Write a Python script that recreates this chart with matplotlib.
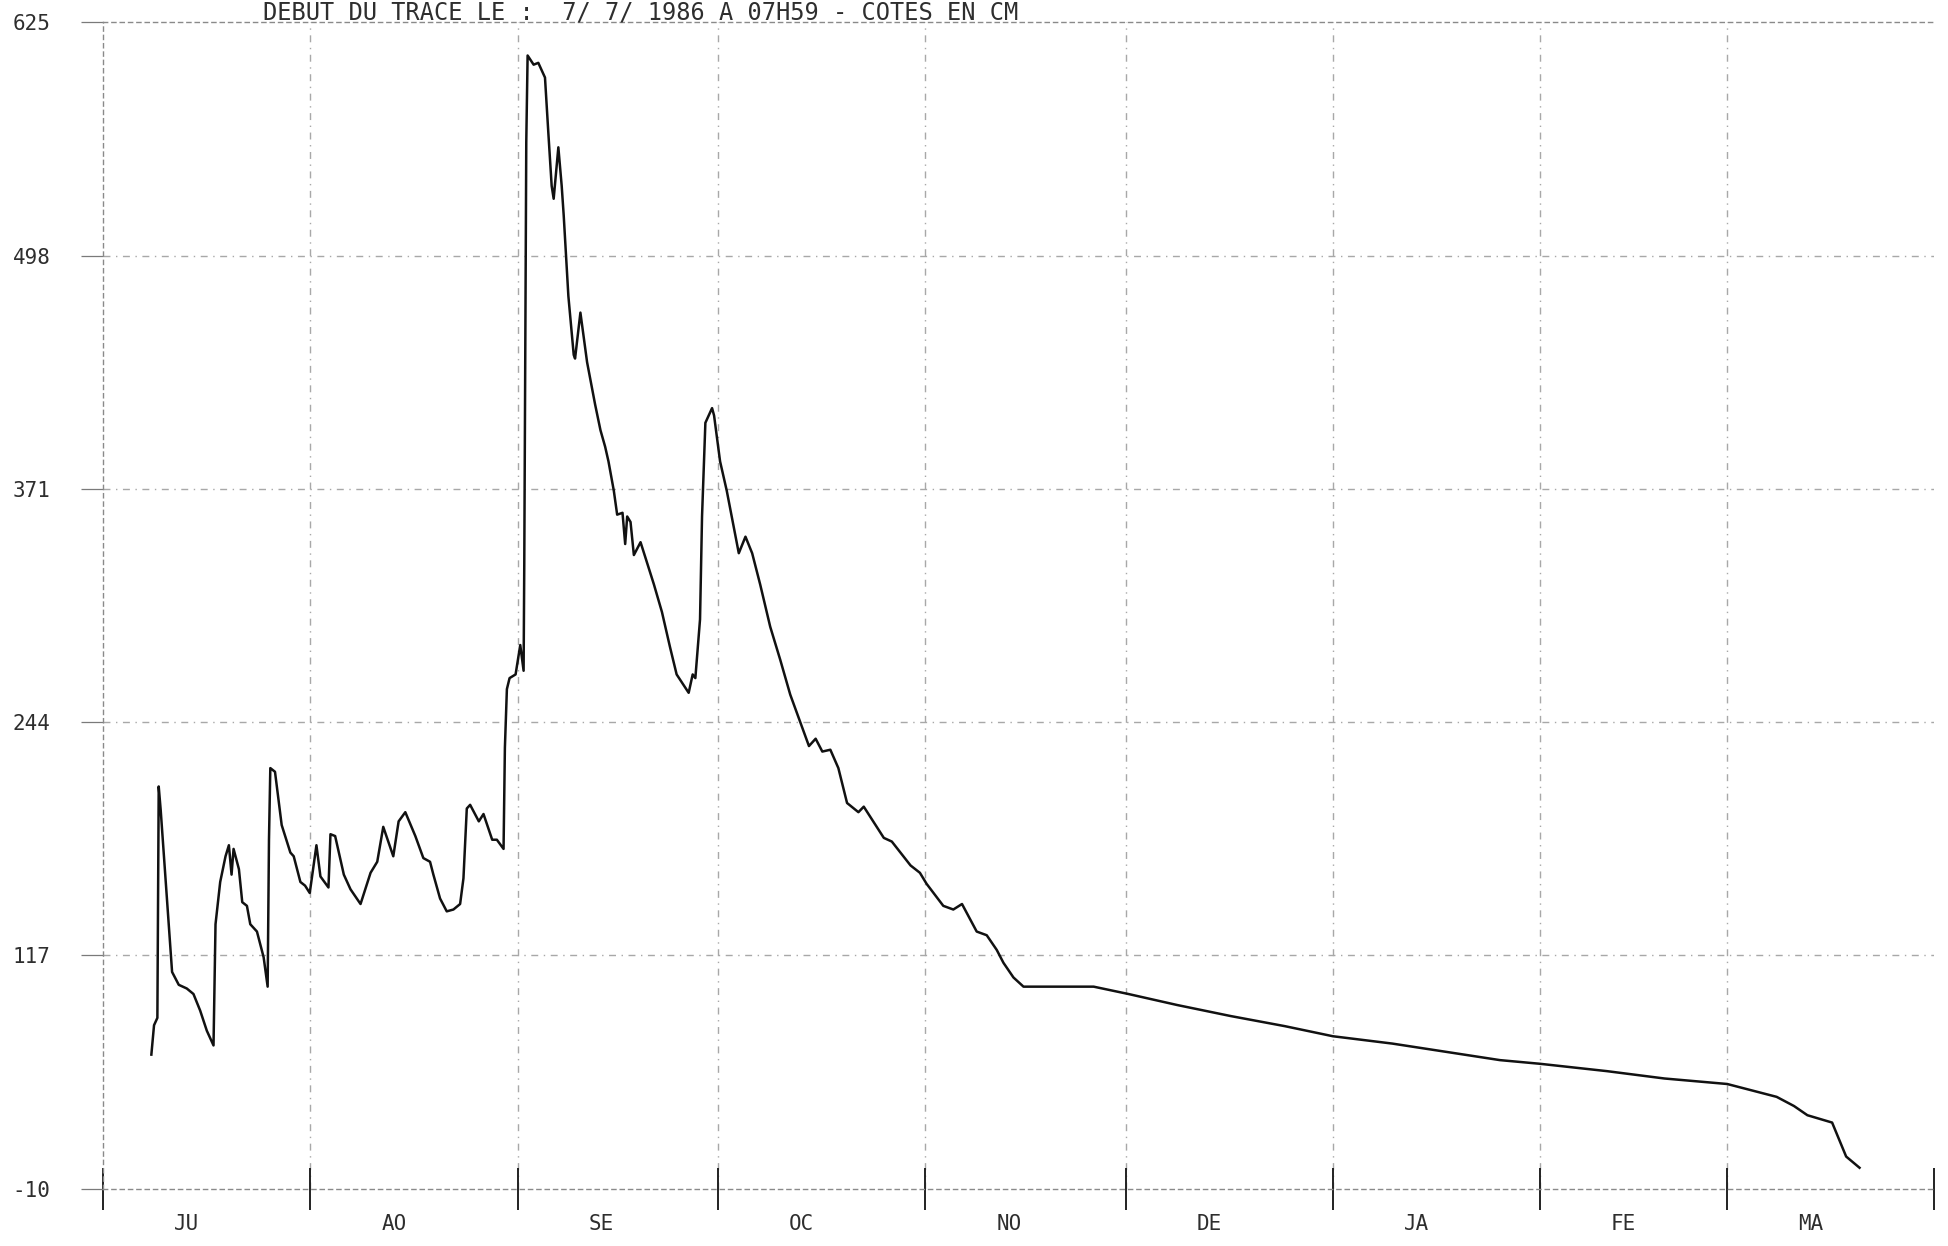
import matplotlib
matplotlib.use("Agg")
import matplotlib.pyplot as plt
import numpy as np

# ---------------- data (day counted from 1 July 1986, water level in cm) -------------
days = [7.2, 7.6, 8.1, 8.3, 8.6, 10.3, 11.3, 12.5, 13.5, 14.5, 15.5, 16.5, 16.8, 17.5,
        18.3, 18.8, 19.2, 19.5, 20.3, 20.8, 21.5, 22.0, 23.0, 24.0, 24.6, 24.8, 25.0,
        25.7, 26.7, 28.0, 28.5, 29.5, 30.2, 30.9, 31.9, 32.5, 33.7, 34.0, 34.7, 36.0,
        37.0, 38.5, 40.0, 41.0, 41.9, 43.4, 44.2, 45.2, 46.7, 47.9, 48.9, 49.4, 50.4,
        51.4, 52.4, 53.4, 53.9, 54.4, 54.9, 56.2, 56.9, 58.2, 58.9, 59.9, 60.1, 60.4,
        60.8, 61.7, 62.4, 62.9, 63.0, 63.1, 63.3, 63.5, 64.4, 65.1, 66.1, 66.6, 67.1,
        67.4, 68.1, 68.6, 68.9, 69.6, 70.4, 70.6, 71.4, 72.4, 73.6, 74.4, 75.1, 75.6,
        76.4, 76.9, 77.7, 78.1, 78.4, 78.9, 79.4, 80.4, 82.4, 83.6, 84.8, 85.8, 87.6,
        88.2, 88.6, 89.3, 89.6, 90.1, 91.1, 91.4, 92.3, 93.3, 94.3, 95.1, 96.1, 97.1,
        98.3, 99.8, 101.3, 102.8, 104.3, 105.6, 106.6, 107.6, 108.8, 110.0, 111.3,
        113.0, 113.8, 116.8, 118.0, 120.8, 122.2, 123.2, 125.7, 127.2, 128.5, 130.7,
        132.2, 133.7, 134.7, 136.2, 137.7, 142.2, 148.2, 153.4, 160.7, 168.7, 176.8,
        184.0, 192.9, 201.0, 209.0, 215.0, 225.0, 233.6, 243.0, 250.4, 253.0, 255.0,
        258.7, 260.4, 260.8, 262.8]
levels = [63, 79, 83, 209, 196, 108, 101, 99, 96, 87, 76, 68, 134, 157,
          171, 177, 161, 175, 164, 146, 144, 134, 130, 116, 100, 180, 219,
          217, 188, 173, 171, 157, 155, 151, 177, 160, 154, 183, 182, 161,
          153, 145, 162, 168, 187, 171, 190, 195, 182, 170, 168, 161, 148,
          141, 142, 145, 159, 197, 199, 190, 194, 180, 180, 175, 230, 262,
          268, 270, 286, 272, 330, 410, 560, 607, 602, 603, 595, 565, 536,
          529, 557, 536, 520, 476, 444, 442, 467, 440, 417, 403, 394, 386,
          370, 357, 358, 341, 356, 353, 335, 342, 319, 304, 285, 270, 260,
          270, 268, 300, 356, 407, 415, 411, 386, 370, 351, 336, 345, 336,
          319, 296, 278, 259, 244, 231, 235, 228, 229, 219, 200,
          195, 198, 181, 179, 166, 162, 156, 144, 142, 145, 130,
          128, 120, 113, 105, 100, 100, 100, 96, 90, 84, 78.5,
          73, 69, 64.5, 60, 58, 54, 50, 47, 40, 35, 30,
          26, 11, 7.5, 1.4]

month_starts = [0, 31, 62, 92, 123, 153, 184, 215, 243, 274]
month_labels = ["JU", "AO", "SE", "OC", "NO", "DE", "JA", "FE", "MA"]
y_ticks = [-10, 117, 244, 371, 498, 625]
title = "DEBUT DU TRACE LE :  7/ 7/ 1986 A 07H59 - COTES EN CM"

# ---------------- figure ----------------
FONT = "DejaVu Sans Mono"
TXT = "#2e2e2e"
GRID = "#a8a8a8"

fig = plt.figure(figsize=(19.48, 12.46), dpi=100, facecolor="white")
ax = fig.add_axes([0.053, 0.046, 0.940, 0.936])
ax.set_facecolor("white")

ax.plot(days, levels, color="#111111", lw=1.8, solid_joinstyle="round")

ax.set_xlim(month_starts[0], month_starts[-1])
ax.set_ylim(y_ticks[0], y_ticks[-1])

# grid
for yv in y_ticks[1:-1]:
    ax.axhline(yv, color=GRID, lw=1.0, ls=(0, (5, 4, 1, 4)), zorder=0)
for m in month_starts[1:-1]:
    ax.axvline(m, color=GRID, lw=1.0, ls=(0, (5, 4, 1, 4)), zorder=0)

for side in ["left", "top", "right", "bottom"]:
    ax.spines[side].set_color("#8a8a8a")
    ax.spines[side].set_linewidth(1.0)
    ax.spines[side].set_linestyle((0, (3, 3)))
ax.spines["right"].set_visible(False)

ax.set_yticks(y_ticks)
ax.set_yticklabels([str(v) for v in y_ticks], fontfamily=FONT, fontsize=15, color=TXT)
ax.tick_params(axis="y", direction="out", length=16, width=0.9, color="#7a7a7a", pad=22)

ax.set_xticks(month_starts)
ax.set_xticklabels([])
ax.tick_params(axis="x", direction="inout", length=30, width=1.4, color="#222222",
               top=False)

for m0, lab in zip(month_starts[:-1], month_labels):
    ax.text(m0 + 12.5, -0.030, lab, transform=ax.get_xaxis_transform(),
            ha="center", va="center", fontfamily=FONT, fontsize=15, color=TXT)

fig.text(0.329, 1.0, title, ha="center", va="top", fontfamily=FONT,
         fontsize=17, color=TXT)

fig.savefig("out.png", dpi=100, facecolor="white")
